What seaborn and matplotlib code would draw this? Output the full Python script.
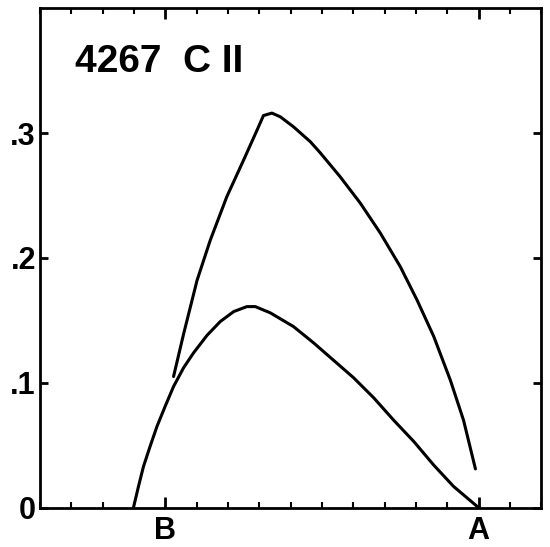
import pandas as pd
import matplotlib.pyplot as plt
import seaborn as sns
from matplotlib.ticker import MultipleLocator

# lower curve
x_low = [2.98, 3.14, 3.30, 3.51, 3.73, 3.99, 4.26, 4.58, 4.90, 5.33, 5.75,
         6.18, 6.60, 6.87, 7.35, 8.09, 8.73, 9.37, 10.01, 10.65, 11.29,
         11.93, 12.57, 13.20, 14.0]
y_low = [0.0, 0.017, 0.033, 0.049, 0.065, 0.081, 0.097, 0.112, 0.124, 0.138,
         0.149, 0.157, 0.161, 0.161, 0.156, 0.145, 0.132, 0.118, 0.104, 0.088,
         0.070, 0.053, 0.034, 0.017, 0.0]

# upper curve
x_up = [4.26, 4.58, 5.01, 5.43, 5.96, 6.49, 6.92, 7.13, 7.40, 7.67, 8.09,
        8.63, 8.95, 9.58, 10.22, 10.86, 11.50, 12.04, 12.57, 13.10, 13.52, 13.90]
y_up = [0.105, 0.139, 0.182, 0.214, 0.249, 0.278, 0.302, 0.314, 0.316, 0.313,
        0.305, 0.293, 0.284, 0.265, 0.244, 0.220, 0.193, 0.166, 0.137, 0.102,
        0.070, 0.031]

x_ticks = [4, 14]
x_labels = ['B', 'A']
y_ticks = [0.0, 0.1, 0.2, 0.3]
y_labels = ['0', '.1', '.2', '.3']
title = '4267  C II'

sns.set_style('ticks')
plt.rcParams['font.family'] = ['Liberation Sans', 'DejaVu Sans']
plt.rcParams['text.color'] = 'black'
plt.rcParams['xtick.color'] = 'black'
plt.rcParams['ytick.color'] = 'black'

fig = plt.figure(figsize=(5.5, 5.47), dpi=100)
ax = fig.add_axes([0.073, 0.072, 0.911, 0.913])

df_low = pd.DataFrame({'x': x_low, 'y': y_low})
df_up = pd.DataFrame({'x': x_up, 'y': y_up})
sns.lineplot(data=df_low, x='x', y='y', sort=False, color='black', linewidth=2.2, ax=ax)
sns.lineplot(data=df_up, x='x', y='y', sort=False, color='black', linewidth=2.2, ax=ax)

ax.set_xlim(0, 16)
ax.set_ylim(0, 0.4)
ax.set_xlabel('')
ax.set_ylabel('')

ax.set_xticks(x_ticks)
ax.set_xticklabels(x_labels, fontsize=22, fontweight='bold')
ax.xaxis.set_minor_locator(MultipleLocator(1))
ax.set_yticks(y_ticks)
ax.set_yticklabels(y_labels, fontsize=22, fontweight='bold')

ax.tick_params(axis='x', which='major', direction='in', length=8, width=2,
               top=True, bottom=True, pad=6)
ax.tick_params(axis='x', which='minor', direction='in', length=4, width=1.5,
               top=True, bottom=True)
ax.tick_params(axis='y', which='major', direction='in', length=6, width=2,
               left=True, right=True, pad=3)

for s in ax.spines.values():
    s.set_linewidth(2)
    s.set_color('black')

ax.text(0.07, 0.872, title, transform=ax.transAxes, fontsize=28,
        fontweight='bold', ha='left', va='baseline')

fig.savefig('out.png', dpi=100, facecolor='white')
